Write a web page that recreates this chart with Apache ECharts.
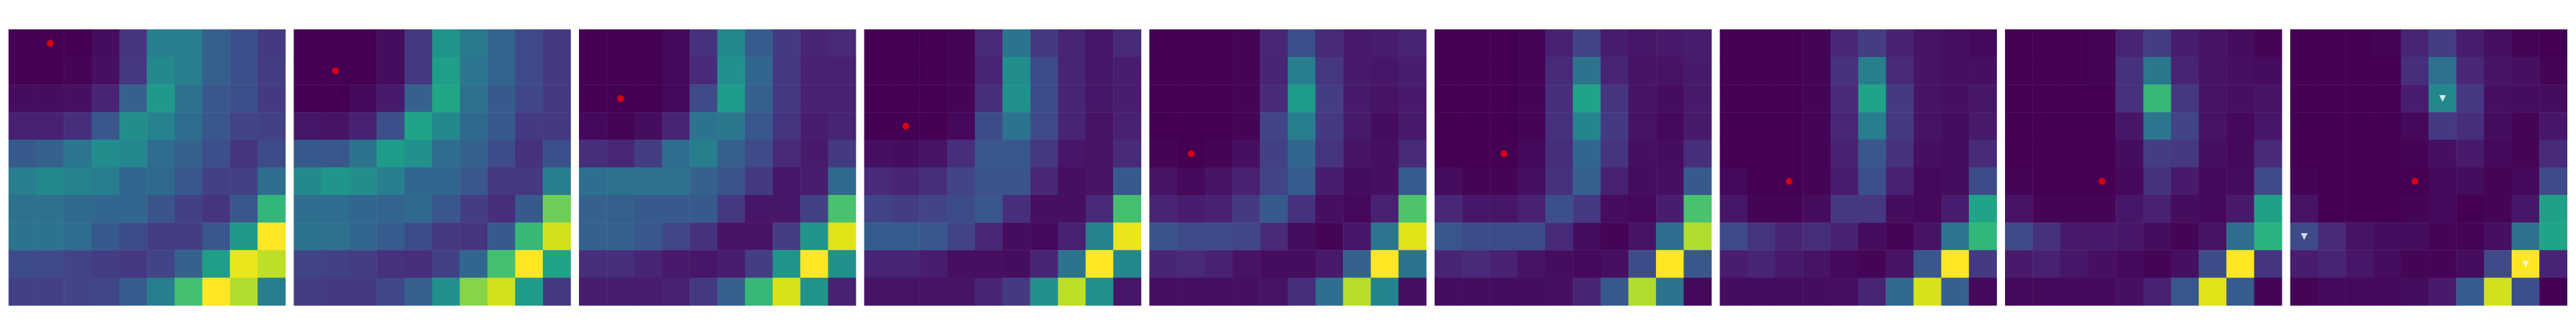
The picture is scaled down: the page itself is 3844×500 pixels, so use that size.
<!DOCTYPE html>
<html>
<head>
<meta charset="utf-8">
<script src="https://cdn.jsdelivr.net/npm/echarts@6/dist/echarts.min.js"></script>
<style>html,body{margin:0;padding:0;background:#fff}#c{width:3844px;height:500px}</style>
</head>
<body>
<div id="c"></div>
<script>
// 10x10 grids, rows top to bottom, values normalised 0..1
const cols = ['0','1','2','3','4','5','6','7','8','9'];
const rows = ['0','1','2','3','4','5','6','7','8','9'];

const frame1 = [
 [0.00,0.00,0.00,0.03,0.15,0.42,0.42,0.30,0.24,0.17],
 [0.00,0.00,0.01,0.04,0.16,0.47,0.42,0.30,0.24,0.18],
 [0.03,0.03,0.04,0.10,0.31,0.54,0.37,0.27,0.24,0.17],
 [0.09,0.09,0.13,0.27,0.49,0.44,0.35,0.27,0.20,0.19],
 [0.28,0.31,0.39,0.48,0.46,0.35,0.31,0.24,0.15,0.23],
 [0.42,0.46,0.44,0.42,0.33,0.34,0.27,0.19,0.19,0.36],
 [0.37,0.37,0.34,0.33,0.33,0.26,0.19,0.15,0.27,0.66],
 [0.38,0.38,0.35,0.28,0.23,0.18,0.18,0.27,0.54,1.00],
 [0.23,0.22,0.20,0.18,0.16,0.20,0.31,0.56,0.97,0.90],
 [0.19,0.19,0.20,0.21,0.29,0.42,0.70,1.00,0.88,0.42]
];
const frame2 = [
 [0.00,0.00,0.00,0.03,0.16,0.51,0.41,0.32,0.22,0.17],
 [0.00,0.00,0.00,0.03,0.16,0.56,0.39,0.32,0.22,0.17],
 [0.00,0.00,0.02,0.07,0.31,0.59,0.37,0.28,0.21,0.16],
 [0.06,0.05,0.09,0.24,0.58,0.46,0.34,0.28,0.17,0.17],
 [0.28,0.27,0.38,0.55,0.50,0.35,0.31,0.23,0.14,0.24],
 [0.47,0.52,0.49,0.42,0.33,0.33,0.27,0.16,0.16,0.42],
 [0.36,0.36,0.33,0.32,0.34,0.27,0.18,0.13,0.28,0.78],
 [0.38,0.37,0.33,0.29,0.23,0.16,0.15,0.28,0.67,0.93],
 [0.20,0.19,0.18,0.14,0.13,0.19,0.33,0.70,1.00,0.58],
 [0.18,0.17,0.17,0.21,0.30,0.50,0.82,0.93,0.55,0.17]
];
const frame3 = [
 [0.00,0.00,0.00,0.02,0.14,0.46,0.29,0.17,0.10,0.12],
 [0.00,0.00,0.00,0.02,0.12,0.50,0.33,0.16,0.09,0.09],
 [0.00,0.00,0.00,0.02,0.22,0.55,0.30,0.16,0.09,0.09],
 [0.02,0.01,0.03,0.10,0.38,0.40,0.27,0.15,0.08,0.10],
 [0.13,0.11,0.18,0.35,0.43,0.30,0.22,0.12,0.07,0.17],
 [0.36,0.37,0.37,0.37,0.31,0.26,0.17,0.06,0.08,0.34],
 [0.31,0.30,0.28,0.28,0.28,0.16,0.06,0.06,0.19,0.71],
 [0.31,0.31,0.27,0.21,0.14,0.05,0.05,0.18,0.52,0.95],
 [0.13,0.13,0.10,0.07,0.06,0.08,0.18,0.52,1.00,0.50],
 [0.08,0.08,0.08,0.09,0.17,0.31,0.67,0.94,0.51,0.09]
];
const frame4 = [
 [0.00,0.00,0.00,0.01,0.12,0.38,0.17,0.10,0.06,0.12],
 [0.00,0.00,0.00,0.01,0.10,0.49,0.23,0.10,0.06,0.08],
 [0.00,0.00,0.00,0.01,0.13,0.50,0.23,0.10,0.06,0.08],
 [0.00,0.00,0.00,0.02,0.23,0.38,0.22,0.10,0.05,0.09],
 [0.04,0.03,0.05,0.13,0.27,0.27,0.16,0.06,0.05,0.12],
 [0.12,0.10,0.13,0.20,0.25,0.25,0.11,0.04,0.05,0.28],
 [0.20,0.18,0.20,0.23,0.27,0.13,0.04,0.04,0.12,0.70],
 [0.29,0.29,0.27,0.20,0.11,0.03,0.02,0.09,0.44,0.97],
 [0.10,0.10,0.08,0.04,0.04,0.03,0.10,0.38,1.00,0.46],
 [0.05,0.05,0.05,0.05,0.10,0.17,0.50,0.90,0.50,0.06]
];
const frame5 = [
 [0.00,0.00,0.00,0.01,0.11,0.24,0.12,0.07,0.08,0.10],
 [0.00,0.00,0.00,0.01,0.10,0.42,0.16,0.07,0.06,0.08],
 [0.00,0.00,0.00,0.01,0.12,0.55,0.18,0.07,0.05,0.07],
 [0.00,0.00,0.00,0.01,0.20,0.42,0.17,0.07,0.03,0.07],
 [0.01,0.00,0.01,0.04,0.19,0.33,0.15,0.05,0.04,0.12],
 [0.05,0.02,0.05,0.09,0.20,0.29,0.08,0.03,0.04,0.29],
 [0.10,0.08,0.09,0.17,0.28,0.14,0.04,0.02,0.09,0.72],
 [0.26,0.22,0.22,0.21,0.12,0.03,0.01,0.06,0.39,0.95],
 [0.10,0.12,0.09,0.05,0.03,0.03,0.07,0.31,1.00,0.38],
 [0.04,0.04,0.04,0.04,0.05,0.13,0.36,0.89,0.45,0.04]
];
const frame6 = [
 [0.00,0.00,0.00,0.01,0.09,0.20,0.08,0.06,0.07,0.08],
 [0.00,0.00,0.00,0.01,0.12,0.38,0.10,0.05,0.05,0.07],
 [0.00,0.00,0.00,0.01,0.13,0.58,0.15,0.05,0.03,0.07],
 [0.00,0.00,0.00,0.01,0.14,0.45,0.17,0.05,0.02,0.07],
 [0.00,0.00,0.00,0.02,0.13,0.33,0.15,0.04,0.03,0.13],
 [0.03,0.01,0.01,0.04,0.14,0.30,0.09,0.03,0.04,0.28],
 [0.11,0.06,0.06,0.09,0.24,0.16,0.03,0.02,0.08,0.71],
 [0.27,0.23,0.23,0.23,0.12,0.03,0.01,0.05,0.36,0.88],
 [0.10,0.12,0.09,0.05,0.03,0.02,0.04,0.23,1.00,0.27],
 [0.03,0.03,0.03,0.03,0.04,0.10,0.28,0.88,0.38,0.02]
];
const frame7 = [
 [0.00,0.00,0.00,0.01,0.11,0.18,0.09,0.05,0.04,0.02],
 [0.00,0.00,0.00,0.01,0.14,0.43,0.12,0.05,0.04,0.04],
 [0.00,0.00,0.00,0.01,0.12,0.58,0.17,0.05,0.04,0.06],
 [0.00,0.00,0.00,0.01,0.11,0.42,0.17,0.05,0.03,0.07],
 [0.00,0.00,0.00,0.01,0.09,0.27,0.14,0.04,0.03,0.12],
 [0.02,0.00,0.00,0.01,0.08,0.24,0.09,0.02,0.03,0.23],
 [0.06,0.01,0.01,0.03,0.16,0.16,0.03,0.02,0.08,0.58],
 [0.22,0.15,0.10,0.13,0.09,0.03,0.01,0.05,0.39,0.66],
 [0.08,0.10,0.07,0.05,0.02,0.01,0.05,0.27,1.00,0.17],
 [0.03,0.03,0.03,0.03,0.04,0.10,0.34,0.94,0.31,0.02]
];
const frame8 = [
 [0.00,0.00,0.00,0.01,0.10,0.18,0.08,0.05,0.03,0.01],
 [0.00,0.00,0.00,0.01,0.14,0.40,0.10,0.05,0.04,0.03],
 [0.00,0.00,0.00,0.00,0.14,0.67,0.16,0.05,0.04,0.05],
 [0.00,0.00,0.00,0.00,0.06,0.39,0.20,0.05,0.02,0.06],
 [0.00,0.00,0.00,0.00,0.03,0.18,0.16,0.04,0.02,0.12],
 [0.01,0.00,0.00,0.00,0.02,0.14,0.07,0.02,0.03,0.22],
 [0.05,0.01,0.01,0.01,0.06,0.09,0.03,0.02,0.07,0.57],
 [0.22,0.14,0.07,0.07,0.06,0.03,0.01,0.05,0.36,0.64],
 [0.07,0.09,0.06,0.04,0.02,0.01,0.04,0.23,1.00,0.15],
 [0.02,0.02,0.02,0.02,0.04,0.09,0.27,0.95,0.29,0.01]
];
const frame9 = [
 [0.00,0.00,0.00,0.01,0.10,0.18,0.08,0.04,0.01,0.00],
 [0.00,0.00,0.00,0.00,0.13,0.37,0.11,0.05,0.04,0.01],
 [0.00,0.00,0.00,0.00,0.08,0.46,0.16,0.04,0.03,0.03],
 [0.00,0.00,0.00,0.00,0.02,0.17,0.13,0.03,0.01,0.06],
 [0.00,0.00,0.00,0.00,0.01,0.04,0.07,0.02,0.01,0.12],
 [0.01,0.00,0.00,0.00,0.00,0.02,0.03,0.01,0.02,0.22],
 [0.05,0.00,0.00,0.00,0.01,0.02,0.00,0.01,0.06,0.57],
 [0.22,0.12,0.05,0.03,0.03,0.01,0.01,0.04,0.37,0.58],
 [0.08,0.10,0.06,0.03,0.01,0.01,0.03,0.22,1.00,0.10],
 [0.01,0.02,0.02,0.02,0.03,0.07,0.29,0.93,0.24,0.00]
];
const frames = [frame1, frame2, frame3, frame4, frame5, frame6, frame7, frame8, frame9];

// red agent position per frame: [col, row]
const agentPos = [[1,0],[1,1],[1,2],[1,3],[1,4],[2,4],[2,5],[3,5],[4,5]];
// white downward triangles in last frame: [col, row]
const lastFrameMarks = [[5,2],[0,7],[8,8]];

const viridis = ['#440154','#471365','#482475','#463480','#414487','#3b528b','#355f8d','#2f6c8e','#2a788e','#25848e','#21918c','#1e9c89','#22a884','#2fb47c','#44bf70','#5ec962','#7ad151','#9bd93c','#bddf26','#dfe318','#fde725'];

const chart = echarts.init(document.getElementById('c'), null, {renderer: 'canvas'});
const grids = [], xAxes = [], yAxes = [], series = [];
const n = frames.length;
for (let i = 0; i < n; i++) {
  grids.push({left: 13 + i * 425.6, top: 44, width: 413, height: 412});
  xAxes.push({type: 'category', data: cols, gridIndex: i, show: false, splitArea: {show: false}});
  yAxes.push({type: 'category', data: rows, gridIndex: i, inverse: true, show: false, splitArea: {show: false}});
}
for (let i = 0; i < n; i++) {
  const d = [];
  frames[i].forEach((r, ri) => r.forEach((v, ci) => d.push([ci, ri, v])));
  series.push({type: 'heatmap', xAxisIndex: i, yAxisIndex: i, data: d, itemStyle: {borderWidth: 0}, emphasis: {disabled: true}, progressive: 0});
}
for (let i = 0; i < n; i++) {
  series.push({type: 'scatter', xAxisIndex: i, yAxisIndex: i, data: [agentPos[i]], symbol: 'circle', symbolSize: 10, itemStyle: {color: '#ff0000'}, z: 5});
}
series.push({type: 'scatter', xAxisIndex: n - 1, yAxisIndex: n - 1, data: lastFrameMarks, symbol: 'triangle', symbolRotate: 180, symbolSize: 10, itemStyle: {color: '#ffffff'}, z: 5});

chart.setOption({
  animation: false,
  backgroundColor: '#ffffff',
  grid: grids,
  xAxis: xAxes,
  yAxis: yAxes,
  visualMap: {type: 'continuous', show: false, min: 0, max: 1, seriesIndex: [0,1,2,3,4,5,6,7,8], inRange: {color: viridis}},
  series: series
});
</script>
</body>
</html>
